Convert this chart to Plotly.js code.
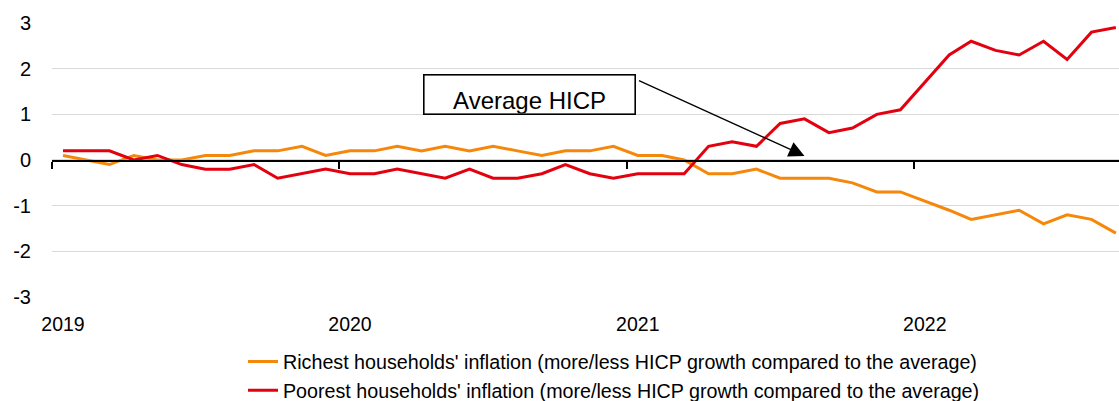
<!DOCTYPE html>
<html>
<head>
<meta charset="utf-8">
<script src="https://cdn.plot.ly/plotly-3.0.1.min.js"></script>
<style>
  html, body { margin: 0; padding: 0; background: #fff; }
  #chart { width: 1119px; height: 401px; }
</style>
</head>
<body>
<div id="chart"></div>
<script>
// Monthly observations, Jan 2019 - Sep 2022 (plotted mid-month)
const months = [
  "2019-01-15","2019-02-15","2019-03-15","2019-04-15","2019-05-15","2019-06-15",
  "2019-07-15","2019-08-15","2019-09-15","2019-10-15","2019-11-15","2019-12-15",
  "2020-01-15","2020-02-15","2020-03-15","2020-04-15","2020-05-15","2020-06-15",
  "2020-07-15","2020-08-15","2020-09-15","2020-10-15","2020-11-15","2020-12-15",
  "2021-01-15","2021-02-15","2021-03-15","2021-04-15","2021-05-15","2021-06-15",
  "2021-07-15","2021-08-15","2021-09-15","2021-10-15","2021-11-15","2021-12-15",
  "2022-01-15","2022-02-15","2022-03-15","2022-04-15","2022-05-15","2022-06-15",
  "2022-07-15","2022-08-15","2022-09-15"
];

const richest = [
  0.1, 0.0, -0.1, 0.1, 0.0, 0.0, 0.1, 0.1, 0.2, 0.2, 0.3, 0.1,
  0.2, 0.2, 0.3, 0.2, 0.3, 0.2, 0.3, 0.2, 0.1, 0.2, 0.2, 0.3,
  0.1, 0.1, 0.0, -0.3, -0.3, -0.2, -0.4, -0.4, -0.4, -0.5, -0.7, -0.7,
  -0.9, -1.1, -1.3, -1.2, -1.1, -1.4, -1.2, -1.3, -1.6
];

const poorest = [
  0.2, 0.2, 0.2, 0.0, 0.1, -0.1, -0.2, -0.2, -0.1, -0.4, -0.3, -0.2,
  -0.3, -0.3, -0.2, -0.3, -0.4, -0.2, -0.4, -0.4, -0.3, -0.1, -0.3, -0.4,
  -0.3, -0.3, -0.3, 0.3, 0.4, 0.3, 0.8, 0.9, 0.6, 0.7, 1.0, 1.1,
  1.7, 2.3, 2.6, 2.4, 2.3, 2.6, 2.2, 2.8, 2.9
];

const seriesNames = [
  "Richest households' inflation (more/less HICP growth compared to the average)",
  "Poorest households' inflation (more/less HICP growth compared to the average)"
];

const yearLabelPos = ["2019-01-15","2020-01-15","2021-01-15","2022-01-15"];
const yearLabels = ["2019","2020","2021","2022"];
const yearBoundaries = ["2019-01-01","2020-01-01","2021-01-01","2022-01-01"];
const yTicks = [-3, -2, -1, 0, 1, 2, 3];
const yTickLabels = ["-3", "-2", "-1", "0", "1", "2", "3"];

const annotationText = "Average HICP";
const arrowTip = { x: "2021-08-15", y: 0.09 };

const FONT = "'Liberation Sans', Arial, sans-serif";

const traces = [
  {
    x: months, y: richest, name: seriesNames[0], type: "scatter", mode: "lines",
    line: { color: "#F5870A", width: 3 }, xaxis: "x", yaxis: "y"
  },
  {
    x: months, y: poorest, name: seriesNames[1], type: "scatter", mode: "lines",
    line: { color: "#E3000F", width: 3 }, xaxis: "x", yaxis: "y"
  },
  {
    // carrier for the zero-line axis with year-boundary ticks
    x: months, y: richest, type: "scatter", mode: "lines", xaxis: "x2", yaxis: "y",
    line: { width: 0, color: "rgba(0,0,0,0)" }, showlegend: false, hoverinfo: "skip", opacity: 0
  }
];

const layout = {
  width: 1119, height: 401,
  margin: { l: 52, r: 0, t: 23, b: 104, autoexpand: false },
  paper_bgcolor: "#ffffff", plot_bgcolor: "#ffffff",
  font: { family: FONT, size: 20, color: "#000" },
  showlegend: true,
  legend: {
    orientation: "v", x: 0.179, xanchor: "left", y: -0.165, yanchor: "top",
    font: { family: FONT, size: 19.7, color: "#000" },
    bgcolor: "rgba(0,0,0,0)", tracegroupgap: 0
  },
  xaxis: {
    type: "date", range: ["2019-01-01", "2022-09-19"],
    tickmode: "array", tickvals: yearLabelPos, ticktext: yearLabels,
    ticks: "", showgrid: false, showline: false, zeroline: false,
    tickfont: { family: FONT, size: 19.5, color: "#000" },
    ticklabelstandoff: 13, fixedrange: true
  },
  xaxis2: {
    type: "date", matches: "x", overlaying: "x", anchor: "free", position: 0.5, side: "bottom",
    tickmode: "array", tickvals: yearBoundaries, showticklabels: false,
    ticks: "outside", ticklen: 7, tickwidth: 1.5, tickcolor: "#000",
    showline: true, linecolor: "#000", linewidth: 1.5, showgrid: false, zeroline: false
  },
  yaxis: {
    range: [-3, 3], tickmode: "array", tickvals: yTicks, ticktext: yTickLabels,
    showgrid: true, gridcolor: "#d9d9d9", gridwidth: 1.2,
    zeroline: false, showline: false, ticks: "",
    tickfont: { family: FONT, size: 20, color: "#000" },
    ticklabelstandoff: 20, fixedrange: true
  },
  annotations: [
    {
      xref: "paper", yref: "paper", x: 0.4475, y: 0.739, xanchor: "center", yanchor: "middle",
      text: annotationText, showarrow: false,
      font: { family: FONT, size: 24, color: "#000" },
      bgcolor: "#ffffff", bordercolor: "#000", borderwidth: 1.6, borderpad: 0,
      width: 210, height: 38, valign: "bottom"
    },
    {
      xref: "x", yref: "y", x: arrowTip.x, y: arrowTip.y,
      axref: "pixel", ayref: "pixel", ax: -167, ay: -76,
      text: "", showarrow: true, arrowhead: 2, arrowsize: 2.4, arrowwidth: 1.3,
      arrowcolor: "#000", standoff: 0
    }
  ]
};

Plotly.newPlot("chart", traces, layout, { staticPlot: true, displayModeBar: false });
</script>
</body>
</html>
